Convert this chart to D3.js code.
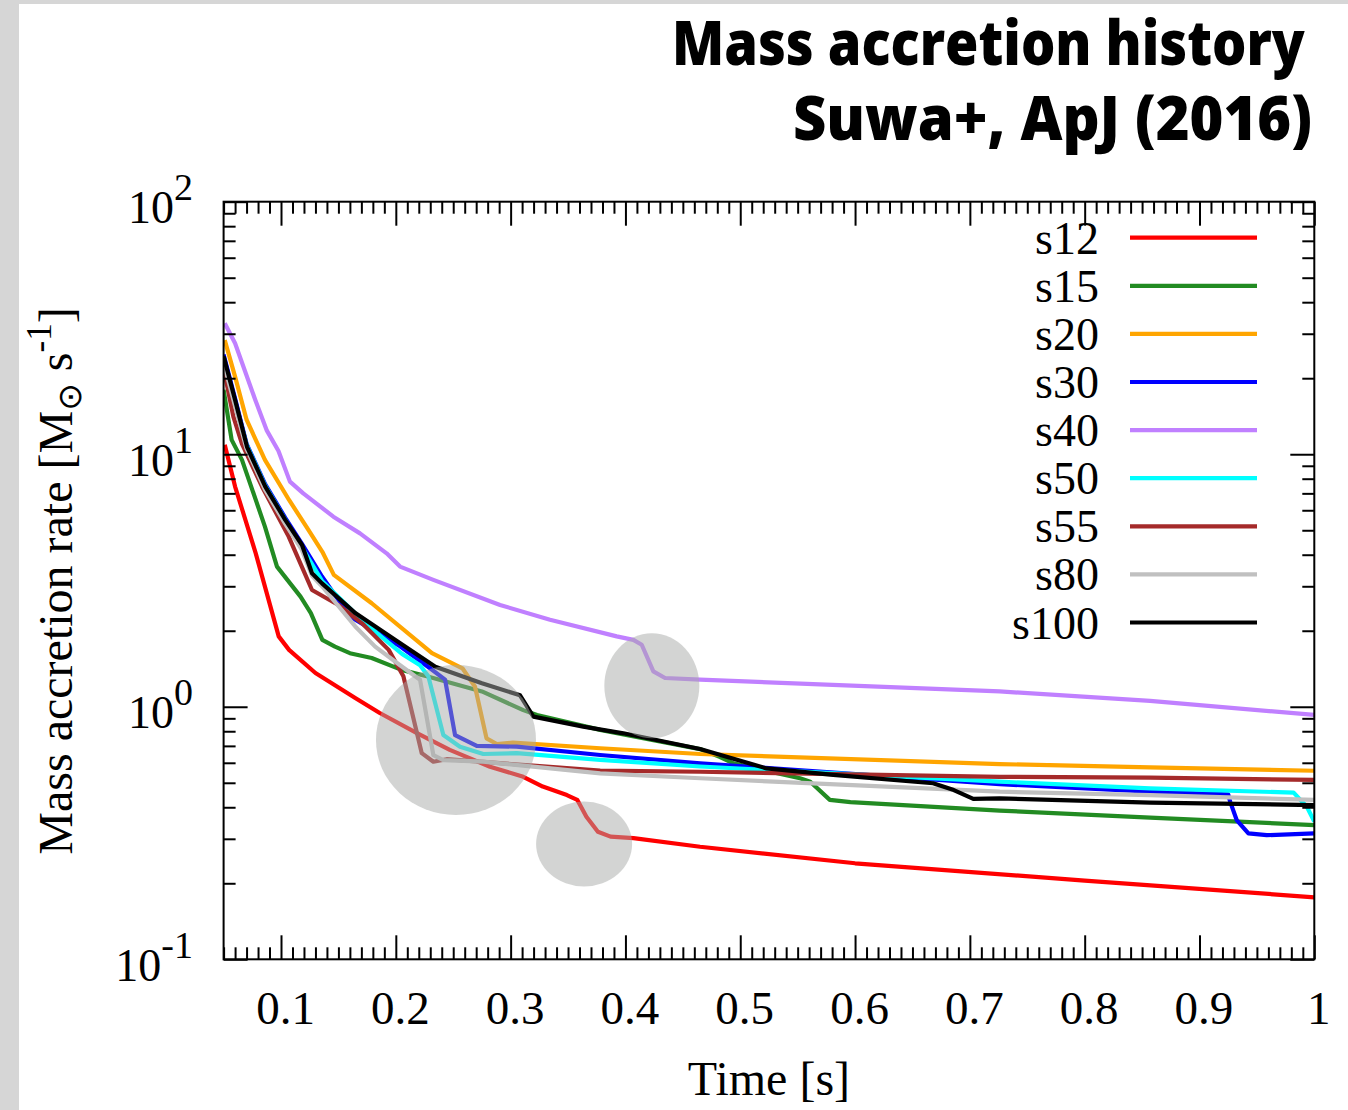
<!DOCTYPE html>
<html>
<head>
<meta charset="utf-8">
<script src="https://cdn.jsdelivr.net/npm/d3@7"></script>
<style>
  html, body { margin: 0; padding: 0; background: #fff; }
  svg { display: block; }
</style>
</head>
<body>
<svg id="chart" width="1348" height="1110"></svg>
<script>
// ---------------- DATA ----------------
const categories = ["s12", "s15", "s20", "s30", "s40", "s50", "s55", "s80", "s100"];

// [time (s), mass accretion rate (Msun/s)]
const s12 = [[0.051,10.9],[0.060,7.45],[0.078,4.05],[0.098,1.90],[0.107,1.68],[0.130,1.36],[0.165,1.08],[0.186,0.945],[0.218,0.788],[0.247,0.675],[0.282,0.579],[0.311,0.528],[0.328,0.483],[0.349,0.447],[0.358,0.428],[0.366,0.367],[0.376,0.320],[0.387,0.306],[0.407,0.302],[0.465,0.279],[0.6,0.240],[0.8,0.205],[1.0,0.176]];
const s15 = [[0.050,18.0],[0.057,11.4],[0.066,9.5],[0.086,5.17],[0.0965,3.59],[0.117,2.73],[0.126,2.35],[0.136,1.84],[0.147,1.73],[0.160,1.63],[0.179,1.56],[0.205,1.40],[0.227,1.32],[0.275,1.15],[0.311,0.97],[0.323,0.928],[0.378,0.81],[0.465,0.68],[0.482,0.634],[0.494,0.597],[0.552,0.521],[0.561,0.505],[0.578,0.428],[0.596,0.419],[0.726,0.388],[0.857,0.364],[1.0,0.340]];
const s20 = [[0.051,28.3],[0.060,20.3],[0.070,13.7],[0.086,9.5],[0.107,6.59],[0.124,5.01],[0.136,4.11],[0.146,3.33],[0.179,2.57],[0.2315,1.63],[0.258,1.42],[0.269,1.20],[0.279,0.75],[0.288,0.712],[0.302,0.721],[0.378,0.685],[0.465,0.65],[0.726,0.593],[0.857,0.575],[1.0,0.558]];
const s30 = [[0.050,24.8],[0.060,16.6],[0.070,11.0],[0.0863,7.6],[0.1037,5.6],[0.118,4.44],[0.1357,3.28],[0.160,2.28],[0.2025,1.75],[0.2298,1.42],[0.2429,1.28],[0.2516,0.773],[0.2705,0.700],[0.3053,0.695],[0.378,0.644],[0.465,0.597],[0.726,0.494],[0.857,0.461],[0.925,0.450],[0.9267,0.421],[0.9324,0.356],[0.9426,0.315],[0.9586,0.310],[1.0,0.315]];
const s40 = [[0.051,33.0],[0.060,27.5],[0.0776,16.4],[0.0877,12.4],[0.0978,10.3],[0.1078,7.79],[0.1194,7.0],[0.1456,5.66],[0.1688,4.86],[0.192,4.05],[0.2037,3.59],[0.2327,3.18],[0.2908,2.53],[0.3343,2.21],[0.3924,1.90],[0.4069,1.84],[0.4142,1.76],[0.4243,1.38],[0.4345,1.30],[0.465,1.28],[0.726,1.15],[0.857,1.055],[1.0,0.928]];
const s50 = [[0.050,23.5],[0.060,16.0],[0.070,10.9],[0.0863,7.5],[0.1037,5.5],[0.118,4.3],[0.1357,3.15],[0.1734,2.14],[0.2054,1.62],[0.2211,1.46],[0.2283,1.32],[0.2414,0.773],[0.2559,0.695],[0.2762,0.650],[0.3053,0.655],[0.378,0.616],[0.465,0.58],[0.726,0.505],[0.857,0.475],[0.982,0.457],[0.9935,0.402],[1.0,0.351]];
const s55 = [[0.050,21.9],[0.0585,14.1],[0.066,11.0],[0.0835,7.44],[0.1067,4.72],[0.127,2.90],[0.150,2.53],[0.160,2.33],[0.1706,2.14],[0.1938,1.68],[0.2066,1.32],[0.2226,0.655],[0.2327,0.606],[0.2443,0.62],[0.378,0.559],[0.465,0.553],[0.726,0.528],[0.857,0.524],[1.0,0.513]];
const s80 = [[0.050,23.0],[0.060,15.5],[0.070,10.5],[0.0863,7.2],[0.1037,5.3],[0.118,4.2],[0.127,3.3],[0.1357,3.0],[0.1647,2.08],[0.182,1.73],[0.2037,1.46],[0.2211,1.28],[0.2327,0.644],[0.2414,0.615],[0.2762,0.606],[0.378,0.545],[0.465,0.521],[0.726,0.461],[0.857,0.447],[1.0,0.428]];
const s100 = [[0.050,24.4],[0.060,16.4],[0.0704,10.7],[0.0863,7.44],[0.1037,5.50],[0.1183,4.37],[0.127,3.38],[0.1357,3.08],[0.1647,2.35],[0.1996,1.84],[0.2344,1.44],[0.275,1.24],[0.3082,1.11],[0.3198,0.914],[0.3633,0.834],[0.3982,0.785],[0.465,0.68],[0.523,0.570],[0.581,0.537],[0.668,0.498],[0.686,0.468],[0.703,0.432],[0.726,0.434],[0.857,0.417],[1.0,0.408]];
const seriesValues = [s12, s15, s20, s30, s40, s50, s55, s80, s100];

// highlighted regions (centre in data coordinates)
const highlightCenters = [[0.2524, 0.739], [0.364, 0.286], [0.423, 1.21]];

const xTicks = [0.1, 0.2, 0.3, 0.4, 0.5, 0.6, 0.7, 0.8, 0.9, 1.0];
const xTickLabels = ["0.1", "0.2", "0.3", "0.4", "0.5", "0.6", "0.7", "0.8", "0.9", "1"];
const yTicks = [0.1, 1, 10, 100];
const yTickExponents = ["-1", "0", "1", "2"];

// ---------------- STYLE ----------------
const colors = ["#ff0000", "#228b22", "#ffa500", "#0000ff", "#c080ff", "#00ffff", "#a52a2a", "#c0c0c0", "#000000"];
const serif = "'Liberation Serif', 'Times New Roman', serif";

const svg = d3.select("#chart");
const L = 223.6, R = 1314.3, T = 201.7, B = 959.3;

const x = d3.scaleLinear().domain([0.05, 1]).range([L, R]);
const y = d3.scaleLog().domain([0.1, 100]).range([B, T]);

// page frame
svg.append("rect").attr("x", 0).attr("y", 0).attr("width", 1348).attr("height", 1110).attr("fill", "#fff");
svg.append("rect").attr("x", 0).attr("y", 0).attr("width", 19).attr("height", 1110).attr("fill", "#d6d6d6");
svg.append("rect").attr("x", 0).attr("y", 0).attr("width", 1348).attr("height", 4).attr("fill", "#d6d6d6");

// title (condensed by horizontal scaling to the target width)
function condensedTitle(str, x0, baseline, targetW) {
  const t = svg.append("text").attr("x", 0).attr("y", 0)
    .style("font-family", "'Open Sans', sans-serif").style("font-weight", 800).style("font-size", "62px")
    .text(str);
  const w = t.node().getComputedTextLength();
  t.attr("transform", `translate(${x0},${baseline}) scale(${targetW / w},1)`);
}
condensedTitle("Mass accretion history", 672, 65, 633);
condensedTitle("Suwa+, ApJ (2016)", 793, 140, 519);

// clip
svg.append("clipPath").attr("id", "plotclip").append("rect")
  .attr("x", L).attr("y", T).attr("width", R - L).attr("height", B - T);

const line = d3.line().x(d => x(d[0])).y(d => y(d[1]));
const gLines = svg.append("g").attr("clip-path", "url(#plotclip)");
seriesValues.forEach((s, i) => {
  gLines.append("path").datum(s).attr("d", line)
    .attr("fill", "none").attr("stroke", colors[i]).attr("stroke-width", 4.2)
    .attr("stroke-linejoin", "round");
});

// highlight ellipses
const radii = [[80, 75], [48, 42.5], [47.5, 52.5]];
svg.append("g").selectAll("ellipse").data(highlightCenters).join("ellipse")
  .attr("cx", d => x(d[0])).attr("cy", d => y(d[1]))
  .attr("rx", (d, i) => radii[i][0]).attr("ry", (d, i) => radii[i][1])
  .attr("fill", "rgb(168,170,168)").attr("fill-opacity", 0.5);

// axes
const xMinor = d3.range(0.05, 1.0001, 0.01).map(v => +v.toFixed(2)).filter(v => Math.abs(v * 10 - Math.round(v * 10)) > 1e-6);
const yMinor = [];
[0.1, 1, 10].forEach(d => { for (let k = 2; k <= 9; k++) yMinor.push(k * d); });

function styleAxis(g) {
  g.select(".domain").remove();
  g.selectAll(".tick line").attr("stroke", "#000").attr("stroke-width", 2);
}

svg.append("g").attr("transform", `translate(0,${B})`)
  .call(d3.axisBottom(x).tickValues(xMinor).tickSize(-12).tickFormat(() => "")).call(styleAxis);
svg.append("g").attr("transform", `translate(0,${T})`)
  .call(d3.axisTop(x).tickValues(xMinor).tickSize(-12).tickFormat(() => "")).call(styleAxis);
svg.append("g").attr("transform", `translate(0,${T})`)
  .call(d3.axisTop(x).tickValues(xTicks).tickSize(-24).tickFormat(() => "")).call(styleAxis);
const xAx = svg.append("g").attr("transform", `translate(0,${B})`)
  .call(d3.axisBottom(x).tickValues(xTicks).tickSize(-24).tickFormat((d, i) => xTickLabels[i])).call(styleAxis);
xAx.selectAll(".tick text").attr("y", 65).attr("dy", 0).attr("x", 4)
  .style("font-family", serif).style("font-size", "47px").attr("fill", "#000");

svg.append("g").attr("transform", `translate(${L},0)`)
  .call(d3.axisLeft(y).tickValues(yMinor).tickSize(-12).tickFormat(() => "")).call(styleAxis);
svg.append("g").attr("transform", `translate(${R},0)`)
  .call(d3.axisRight(y).tickValues(yMinor).tickSize(-12).tickFormat(() => "")).call(styleAxis);
svg.append("g").attr("transform", `translate(${R},0)`)
  .call(d3.axisRight(y).tickValues(yTicks).tickSize(-24).tickFormat(() => "")).call(styleAxis);
const yAx = svg.append("g").attr("transform", `translate(${L},0)`)
  .call(d3.axisLeft(y).tickValues(yTicks).tickSize(-24).tickFormat(() => "")).call(styleAxis);
yAx.selectAll(".tick text").remove();
yAx.selectAll(".tick").each(function (d, i) {
  const t = d3.select(this).append("text")
    .attr("x", 193 - L).attr("y", 21).attr("text-anchor", "end")
    .style("font-family", serif).style("font-size", "46px").attr("fill", "#000");
  t.append("tspan").text("10");
  t.append("tspan").attr("dy", -23).style("font-size", "38px").text(yTickExponents[i]);
});

// frame
svg.append("rect").attr("x", L).attr("y", T).attr("width", R - L).attr("height", B - T)
  .attr("fill", "none").attr("stroke", "#000").attr("stroke-width", 2);

// axis titles
svg.append("text").attr("x", (L + R) / 2).attr("y", 1095).attr("text-anchor", "middle")
  .style("font-family", serif).style("font-size", "48px").text("Time [s]");

const yt = svg.append("text").attr("transform", "translate(72,581) rotate(-90)").attr("text-anchor", "middle")
  .style("font-family", serif).style("font-size", "48px");
yt.append("tspan").text("Mass accretion rate [M");
yt.append("tspan").attr("dy", 9).style("font-size", "33px").style("font-family", "'DejaVu Sans', sans-serif").text("\u2299");
yt.append("tspan").attr("dy", -9).text(" s");
yt.append("tspan").attr("dy", -21).style("font-size", "35px").text("-1");
yt.append("tspan").attr("dy", 21).text("]");

// legend
const leg = svg.append("g");
categories.forEach((c, i) => {
  const ly = 237.7 + i * 48.1;
  leg.append("text").attr("x", 1099).attr("y", ly + 16).attr("text-anchor", "end")
    .style("font-family", serif).style("font-size", "46px").text(c);
  leg.append("line").attr("x1", 1130).attr("x2", 1257).attr("y1", ly).attr("y2", ly)
    .attr("stroke", colors[i]).attr("stroke-width", 4.2);
});
</script>
</body>
</html>
